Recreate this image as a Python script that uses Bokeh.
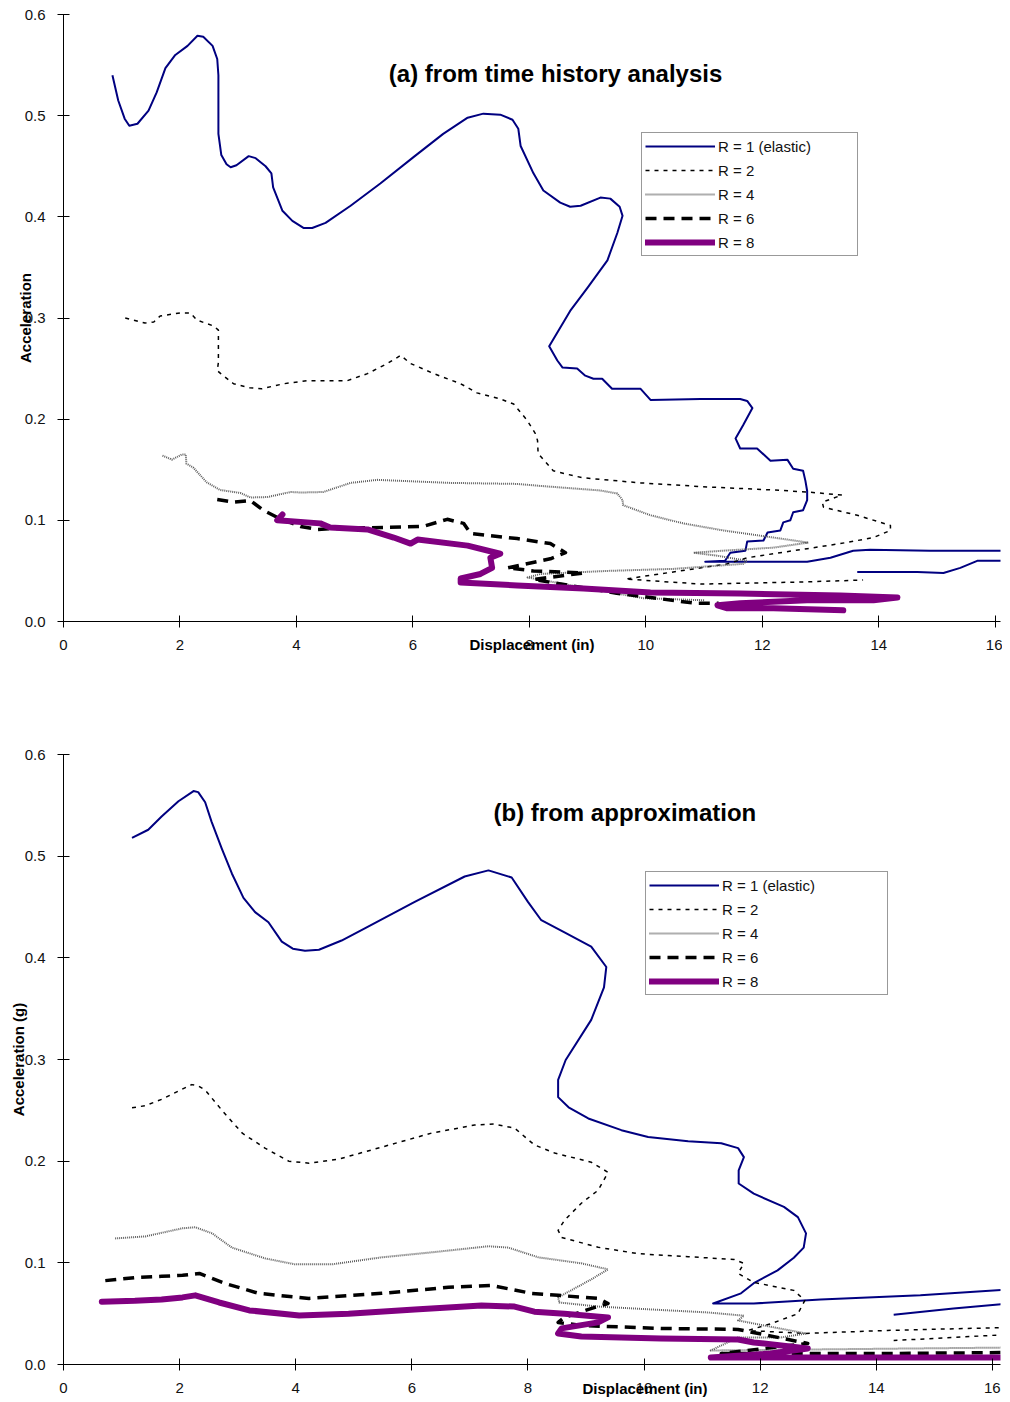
from bokeh.plotting import figure
from bokeh.models import (Legend, LegendItem, Label, FixedTicker, NumeralTickFormatter, Range1d, LinearAxis,
                          Title)
from bokeh.layouts import column
from bokeh.embed import file_html
from bokeh.resources import INLINE

FONT = "Liberation Sans"

# ---------------- data: panel (a) from time history analysis ----------------
a_r1_x = [0.84, 0.94, 1.05, 1.13, 1.27, 1.46, 1.60, 1.75, 1.92, 2.13, 2.30, 2.40, 2.56, 2.64, 2.66, 2.66, 2.66,
          2.71, 2.80, 2.87, 2.97, 3.18, 3.30, 3.47, 3.57, 3.60, 3.76, 3.93, 4.12, 4.27, 4.50, 4.93, 5.44, 6.01,
          6.52, 6.94, 7.21, 7.50, 7.71, 7.81, 7.85, 8.07, 8.24, 8.53, 8.70, 8.88, 9.22, 9.39, 9.55, 9.60, 9.51,
          9.34, 9.00, 8.70, 8.34, 8.48, 8.57, 8.82, 8.96, 9.10, 9.25, 9.42, 9.91, 10.08, 10.94, 11.62, 11.74,
          11.83, 11.67, 11.54, 11.62, 11.91, 12.14, 12.43, 12.53, 12.70, 12.74, 12.77, 12.77, 12.70, 12.53,
          12.48, 12.36, 12.31, 12.09, 12.02, 11.74, 11.71, 11.45, 11.36, 11.02, 11.97, 12.77, 13.17, 13.56,
          13.85, 14.88, 16.14, 17.2, 17.2, 16.14, 15.69, 15.40, 15.11, 14.66, 13.63]
a_r1_y = [0.540, 0.515, 0.497, 0.490, 0.492, 0.505, 0.523, 0.547, 0.560, 0.569, 0.579, 0.578, 0.569, 0.556, 0.540,
          0.505, 0.482, 0.461, 0.452, 0.449, 0.451, 0.460, 0.458, 0.450, 0.443, 0.429, 0.406, 0.396, 0.389, 0.389,
          0.394, 0.411, 0.433, 0.459, 0.482, 0.498, 0.502, 0.501, 0.496, 0.487, 0.470, 0.443, 0.426, 0.414, 0.410,
          0.411, 0.419, 0.418, 0.410, 0.401, 0.384, 0.357, 0.330, 0.307, 0.272, 0.258, 0.251, 0.250, 0.243, 0.240,
          0.240, 0.230, 0.230, 0.219, 0.220, 0.220, 0.218, 0.211, 0.194, 0.181, 0.171, 0.171, 0.159, 0.160, 0.151,
          0.149, 0.139, 0.129, 0.120, 0.110, 0.108, 0.100, 0.098, 0.090, 0.088, 0.080, 0.079, 0.070, 0.068, 0.060,
          0.059, 0.059, 0.059, 0.063, 0.070, 0.071, 0.070, 0.070, 0.070, 0.060, 0.060, 0.060, 0.053, 0.048, 0.049,
          0.049]

a_r2_x = [1.06, 1.40, 1.55, 1.66, 2.00, 2.18, 2.29, 2.58, 2.66, 2.66, 2.64, 2.70, 2.92, 3.20, 3.40, 3.78, 4.19,
          4.87, 5.22, 5.56, 5.79, 5.96, 6.36, 6.82, 7.10, 7.50, 7.73, 7.96, 8.10, 8.14, 8.15, 8.41, 8.76, 8.93,
          9.91, 11.05, 12.19, 12.77, 13.37, 13.03, 13.05, 13.63, 14.20, 14.20, 13.91, 13.34, 12.77, 12.19, 11.74,
          11.40, 10.59, 9.65, 10.94, 12.65, 13.73]
a_r2_y = [0.300, 0.295, 0.296, 0.302, 0.305, 0.305, 0.298, 0.292, 0.288, 0.256, 0.248, 0.245, 0.235, 0.231, 0.230,
          0.235, 0.238, 0.238, 0.245, 0.255, 0.263, 0.255, 0.245, 0.235, 0.226, 0.220, 0.215, 0.199, 0.186, 0.179,
          0.166, 0.149, 0.144, 0.142, 0.137, 0.133, 0.130, 0.128, 0.125, 0.118, 0.113, 0.105, 0.095, 0.090, 0.083,
          0.077, 0.072, 0.067, 0.063, 0.057, 0.050, 0.042, 0.037, 0.039, 0.041]

a_r4_x = [1.70, 1.86, 2.03, 2.10, 2.11, 2.23, 2.46, 2.69, 3.04, 3.21, 3.50, 3.90, 4.07, 4.46, 4.93, 5.39, 6.64,
          7.79, 8.19, 9.22, 9.51, 9.60, 9.61, 10.08, 10.64, 11.33, 12.19, 12.79, 12.19, 11.33, 10.82, 11.23,
          11.74, 11.67, 10.47, 9.34, 8.19, 7.97, 9.96, 11.00]
a_r4_y = [0.164, 0.160, 0.165, 0.165, 0.156, 0.152, 0.1375, 0.130, 0.127, 0.1226, 0.123, 0.128, 0.1275, 0.128,
          0.137, 0.140, 0.137, 0.136, 0.134, 0.1295, 0.1265, 0.120, 0.115, 0.105, 0.097, 0.090, 0.083, 0.078,
          0.073, 0.070, 0.068, 0.065, 0.060, 0.057, 0.052, 0.050, 0.047, 0.0435, 0.023, 0.021]

a_r6_x = [2.64, 2.92, 3.21, 3.43, 3.67, 4.07, 4.36, 4.70, 5.49, 6.18, 6.59, 6.87, 6.99, 7.79, 8.36, 8.62, 8.36,
          7.62, 8.07, 8.93, 8.07, 9.50, 10.85, 11.25]
a_r6_y = [0.1205, 0.118, 0.1196, 0.110, 0.103, 0.094, 0.091, 0.092, 0.093, 0.094, 0.101, 0.097, 0.087, 0.082,
          0.077, 0.068, 0.062, 0.053, 0.050, 0.048, 0.0415, 0.028, 0.018, 0.018]

a_r8_x = [3.76, 3.67, 3.90, 4.41, 4.58, 5.22, 5.67, 5.96, 6.08, 6.94, 7.50, 7.33, 7.36, 7.16, 6.82, 6.82, 7.79,
          8.93, 10.08, 11.62, 13.34, 14.32, 13.91, 12.77, 11.62, 11.23, 11.40, 12.19, 13.39]
a_r8_y = [0.1058, 0.100, 0.099, 0.097, 0.093, 0.091, 0.083, 0.077, 0.081, 0.075, 0.067, 0.063, 0.053, 0.047,
          0.0425, 0.0385, 0.0356, 0.0326, 0.0287, 0.0277, 0.0257, 0.0237, 0.021, 0.021, 0.018, 0.016, 0.013,
          0.013, 0.011]

# ---------------- data: panel (b) from approximation ----------------
b_r1_x = [1.18, 1.46, 1.69, 1.98, 2.24, 2.32, 2.44, 2.55, 2.73, 2.90, 3.10, 3.30, 3.53, 3.76, 3.95, 4.16, 4.40,
          4.79, 5.19, 6.05, 6.91, 7.32, 7.72, 8.00, 8.23, 8.63, 9.09, 9.35, 9.31, 9.09, 8.65, 8.52, 8.52, 8.70,
          9.04, 9.61, 10.07, 10.76, 11.33, 11.62, 11.72, 11.63, 11.63, 11.89, 12.41, 12.65, 12.79, 12.75, 12.58,
          12.30, 11.89, 11.67, 11.19, 11.89, 13.04, 14.76, 16.31, 17.0, 17.0, 16.31, 15.33, 14.30]
b_r1_y = [0.518, 0.526, 0.539, 0.554, 0.564, 0.563, 0.553, 0.534, 0.507, 0.483, 0.459, 0.445, 0.435, 0.416, 0.409,
          0.407, 0.408, 0.417, 0.429, 0.455, 0.480, 0.486, 0.479, 0.455, 0.437, 0.425, 0.411, 0.391, 0.371, 0.339,
          0.2995, 0.280, 0.263, 0.253, 0.242, 0.2305, 0.2237, 0.2197, 0.2177, 0.2128, 0.204, 0.191, 0.178, 0.168,
          0.155, 0.145, 0.129, 0.115, 0.105, 0.0926, 0.080, 0.070, 0.060, 0.060, 0.064, 0.068, 0.074, 0.075, 0.060,
          0.060, 0.055, 0.049]

b_r2_x = [1.18, 1.41, 1.69, 1.98, 2.21, 2.32, 2.44, 2.73, 3.08, 3.47, 3.88, 4.23, 4.74, 5.48, 6.34, 7.08, 7.42,
          7.77, 8.11, 8.46, 9.09, 9.38, 9.21, 8.92, 8.63, 8.52, 8.58, 9.21, 9.90, 10.76, 11.55, 11.72, 11.62,
          11.89, 12.58, 12.77, 12.65, 12.18, 11.79, 12.75, 14.19, 16.31, 17.0, 17.0, 16.31, 15.33, 14.30]
b_r2_y = [0.2525, 0.2546, 0.2608, 0.269, 0.2753, 0.274, 0.270, 0.250, 0.2275, 0.2128, 0.200, 0.198, 0.202, 0.2138,
          0.2276, 0.2355, 0.2365, 0.2325, 0.216, 0.208, 0.199, 0.189, 0.1714, 0.1586, 0.1419, 0.132, 0.125,
          0.1153, 0.109, 0.106, 0.1034, 0.0995, 0.0897, 0.0808, 0.0729, 0.063, 0.050, 0.040, 0.0335, 0.0305,
          0.0335, 0.0365, 0.037, 0.030, 0.0296, 0.0266, 0.0236]

b_r4_x = [0.89, 1.41, 1.81, 2.05, 2.27, 2.56, 2.90, 3.47, 3.99, 4.62, 5.48, 6.34, 7.32, 7.66, 8.18, 8.92, 9.38,
          9.09, 8.52, 8.54, 9.21, 10.17, 11.10, 11.72, 11.62, 12.24, 12.79, 12.36, 11.62, 11.15, 16.31]
b_r4_y = [0.124, 0.126, 0.131, 0.134, 0.135, 0.129, 0.115, 0.1044, 0.0985, 0.0985, 0.1054, 0.1103, 0.1163, 0.115,
          0.1054, 0.0995, 0.0936, 0.0837, 0.066, 0.061, 0.057, 0.054, 0.0512, 0.048, 0.0433, 0.0365, 0.0305,
          0.0266, 0.0266, 0.0138, 0.0167]

b_r6_x = [0.72, 1.23, 1.69, 2.05, 2.34, 2.78, 3.36, 4.23, 5.48, 6.63, 7.37, 8.06, 8.52, 9.21, 9.38, 9.14, 8.63,
          8.52, 8.92, 10.29, 11.62, 12.82, 11.33, 14.19, 16.31]
b_r6_y = [0.0825, 0.0854, 0.0867, 0.0877, 0.0896, 0.0798, 0.070, 0.065, 0.070, 0.0759, 0.0778, 0.070, 0.068, 0.065,
          0.060, 0.056, 0.0463, 0.0414, 0.0384, 0.0355, 0.0345, 0.0207, 0.0108, 0.0108, 0.0118]

b_r8_x = [0.66, 1.23, 1.69, 2.05, 2.27, 2.68, 3.20, 4.06, 4.91, 6.05, 7.20, 7.77, 8.11, 8.63, 9.38, 9.21, 8.58,
          8.52, 8.92, 10.29, 11.62, 11.89, 12.82, 12.18, 11.15, 14.19, 16.31]
b_r8_y = [0.0618, 0.0626, 0.0639, 0.066, 0.068, 0.061, 0.0532, 0.0483, 0.050, 0.054, 0.058, 0.057, 0.052, 0.050,
          0.0463, 0.0414, 0.0355, 0.0305, 0.0276, 0.0256, 0.0246, 0.0217, 0.0158, 0.0108, 0.0069, 0.0069, 0.0069]

series_labels = ["R = 1 (elastic)", "R = 2", "R = 4", "R = 6", "R = 8"]
x_ticks = [0, 2, 4, 6, 8, 10, 12, 14, 16]
y_ticks = [0.0, 0.1, 0.2, 0.3, 0.4, 0.5, 0.6]
title_a = "(a) from time history analysis"
title_b = "(b) from approximation"
x_title = "Displacement (in)"
y_title_a = "Acceleration"
y_title_b = "Acceleration (g)"

STYLES = [
    dict(line_color="#000080", line_width=2),
    dict(line_color="black", line_width=1.5, line_dash="4 5"),
    dict(line_color="#5e5e5e", line_width=2, line_dash="1 1"),
    dict(line_color="black", line_width=3.5, line_dash="11 7"),
    dict(line_color="#800080", line_width=6, line_cap="round"),
]


def panel(height, top, bottom, left, xmax, series, title, title_xy, ytitle, ytitle_standoff,
          xtitle_mode, legend_xy, legend_label_width):
    p = figure(width=1002, height=height, x_range=Range1d(0, xmax), y_range=Range1d(0, 0.6),
               output_backend="svg", toolbar_location=None,
               min_border_top=top, min_border_bottom=bottom, min_border_left=left, min_border_right=2)
    p.outline_line_color = None
    p.background_fill_color = "white"
    p.border_fill_color = "white"
    p.xgrid.grid_line_color = None
    p.ygrid.grid_line_color = None
    for ax, ticks in ((p.xaxis[0], x_ticks), (p.yaxis[0], y_ticks)):
        ax.ticker = FixedTicker(ticks=ticks)
        ax.axis_line_color = "black"
        ax.axis_line_width = 1
        ax.major_tick_line_color = "black"
        ax.major_tick_in = 6
        ax.major_tick_out = 6
        ax.minor_tick_line_color = None
        ax.major_label_text_font = FONT
        ax.major_label_text_font_size = "15px"
        ax.major_label_text_color = "#111111"
    p.yaxis[0].formatter = NumeralTickFormatter(format="0.0")
    p.yaxis[0].major_label_standoff = 12
    p.xaxis[0].major_label_standoff = 12

    # y title on the primary y axis, pulled in over the tick labels
    p.yaxis[0].axis_label = ytitle
    p.yaxis[0].axis_label_standoff = ytitle_standoff
    p.yaxis[0].axis_label_text_font = FONT
    p.yaxis[0].axis_label_text_font_style = "bold"
    p.yaxis[0].axis_label_text_font_size = "15px"
    p.yaxis[0].axis_label_text_color = "black"

    if xtitle_mode == "axis":
        # x title on an invisible axis so that it can sit over the tick labels
        tax = LinearAxis(ticker=FixedTicker(ticks=[]),
                         axis_line_color=None, major_tick_line_color=None, minor_tick_line_color=None,
                         major_tick_out=0, major_tick_in=0, major_label_standoff=0,
                         axis_label=x_title, axis_label_standoff=-17,
                         axis_label_text_font=FONT, axis_label_text_font_style="bold",
                         axis_label_text_font_size="15px", axis_label_text_color="black")
        p.add_layout(tax, "below")
    else:
        t = Title(text=x_title, align="left", offset=xtitle_mode, vertical_align="top", standoff=-32,
                  text_font=FONT, text_font_style="bold", text_font_size="15px", text_color="black")
        p.add_layout(t, "below")

    renderers = []
    for (xs, ys), st in zip(series, STYLES):
        assert len(xs) == len(ys)
        r = p.line(xs, ys, line_join="round", **st)
        renderers.append(r)

    items = [LegendItem(label=lab, renderers=[r]) for lab, r in zip(series_labels, renderers)]
    leg = Legend(items=items, location=legend_xy, orientation="vertical",
                 padding=3, spacing=4, margin=0, label_height=20, glyph_height=20, glyph_width=70,
                 label_standoff=3, label_width=legend_label_width,
                 label_text_font=FONT, label_text_font_size="15px", label_text_color="#111111",
                 border_line_color="#333333", border_line_width=1, background_fill_color="white",
                 background_fill_alpha=1.0)
    p.add_layout(leg, "center")

    p.add_layout(Label(x=title_xy[0], y=title_xy[1], text=title, text_align="center",
                       text_baseline="middle", text_font=FONT, text_font_style="bold",
                       text_font_size="24px", text_color="black"))
    return p


pa = panel(705, 14, 84, 63, 16.09,
           [(a_r1_x, a_r1_y), (a_r2_x, a_r2_y), (a_r4_x, a_r4_y), (a_r6_x, a_r6_y), (a_r8_x, a_r8_y)],
           title_a, (8.45, 0.5415), y_title_a, -12, "axis", (578, 365), 136)
pb = panel(695, 49, 36, 61, 16.14,
           [(b_r1_x, b_r1_y), (b_r2_x, b_r2_y), (b_r4_x, b_r4_y), (b_r6_x, b_r6_y), (b_r8_x, b_r8_y)],
           title_b, (9.67, 0.543), y_title_b, -5, 519, (582, 369), 162)

layout = column(pa, pb, spacing=0)
open("out.html", "w").write(file_html(layout, INLINE))
